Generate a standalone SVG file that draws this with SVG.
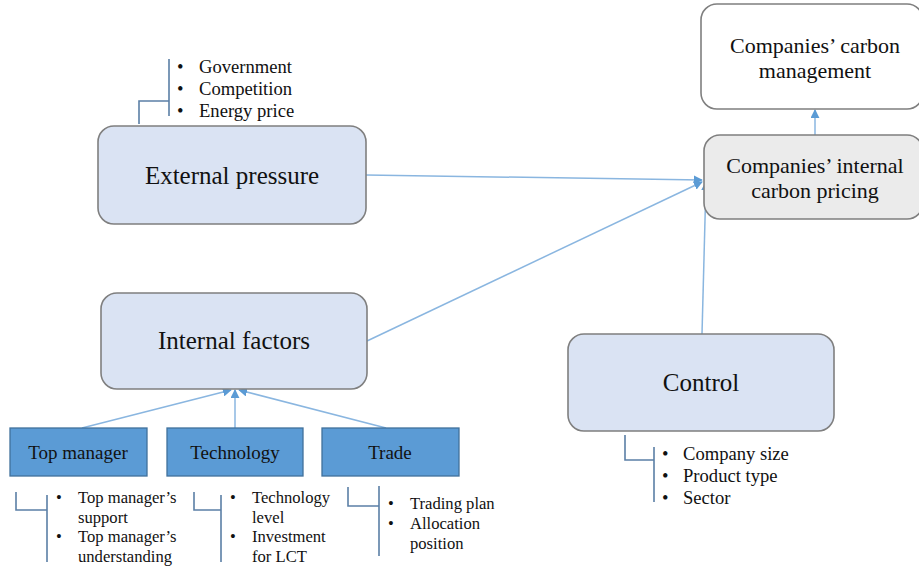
<svg xmlns="http://www.w3.org/2000/svg" width="919" height="570" viewBox="0 0 919 570">
<style>
text{font-family:"Liberation Serif","Times New Roman",serif;fill:#111}
.big{font-size:25px}
.mid{font-size:19px}
.mid2{font-size:22px}
.sm{font-size:18.6px}
.xs{font-size:16.6px}
.rbox{fill:#dae3f3;stroke:#7f7f7f;stroke-width:1.6}
.bbox{fill:#5b9bd5;stroke:#41719c;stroke-width:1.3}
.br{fill:none;stroke:#5b7fa6;stroke-width:1.6}
.conn{stroke:#8ab6e0;stroke-width:1.5;fill:none;marker-end:url(#ah)}
</style>
<defs>
<marker id="ah" viewBox="0 0 10 10" refX="9" refY="5" markerWidth="9" markerHeight="9" orient="auto" markerUnits="userSpaceOnUse">
<path d="M0,0 L10,5 L0,10 z" fill="#5b9bd5"/>
</marker>
</defs>
<rect width="919" height="570" fill="#fff"/>

<g id="connectors">
<line class="conn" x1="366" y1="175" x2="702" y2="180"/>
<line class="conn" x1="367" y1="341" x2="702" y2="182"/>
<line class="conn" x1="702" y1="334" x2="706" y2="182"/>
<line class="conn" x1="815" y1="135" x2="815" y2="110"/>
<line class="conn" x1="82" y1="428" x2="231" y2="390"/>
<line class="conn" x1="235" y1="428" x2="235" y2="390"/>
<line class="conn" x1="386" y1="428" x2="239" y2="390"/>
</g>

<g id="external-pressure">
<rect class="rbox" x="98" y="126" width="268" height="98" rx="16"/>
<text class="big" x="232" y="184" text-anchor="middle">External pressure</text>
<path class="br" d="M139,124 V101 H169 M169,59 V116"/>
<text class="sm" x="177" y="73">•</text><text class="sm" x="199" y="73">Government</text>
<text class="sm" x="177" y="95">•</text><text class="sm" x="199" y="95">Competition</text>
<text class="sm" x="177" y="117">•</text><text class="sm" x="199" y="117">Energy price</text>
</g>

<g id="carbon-management">
<rect x="701" y="4" width="222" height="105" rx="16" fill="#fff" stroke="#7f7f7f" stroke-width="1.6"/>
<text class="mid2" x="815" y="53" text-anchor="middle">Companies’ carbon</text>
<text class="mid2" x="815" y="78" text-anchor="middle">management</text>
</g>

<g id="internal-carbon-pricing">
<rect x="704" y="135" width="219" height="84" rx="16" fill="#ebebeb" stroke="#7f7f7f" stroke-width="1.6"/>
<text class="mid2" x="815" y="173" text-anchor="middle">Companies’ internal</text>
<text class="mid2" x="815" y="198" text-anchor="middle">carbon pricing</text>
</g>

<g id="internal-factors">
<rect class="rbox" x="101" y="293" width="266" height="96" rx="16"/>
<text class="big" x="234" y="349" text-anchor="middle">Internal factors</text>
</g>

<g id="control">
<rect class="rbox" x="568" y="334" width="266" height="97" rx="16"/>
<text class="big" x="701" y="391" text-anchor="middle">Control</text>
<path class="br" d="M625,435 V460 H654 M654,447 V502"/>
<text class="sm" x="662" y="460">•</text><text class="sm" x="683" y="460">Company size</text>
<text class="sm" x="662" y="482">•</text><text class="sm" x="683" y="482">Product type</text>
<text class="sm" x="662" y="504">•</text><text class="sm" x="683" y="504">Sector</text>
</g>

<g id="top-manager">
<rect class="bbox" x="10" y="428" width="137" height="48"/>
<text class="mid" x="78" y="459" text-anchor="middle">Top manager</text>
<path class="br" d="M16,492 V510 H47 M47,495 V562"/>
<text class="xs" x="56" y="503">•</text><text class="xs" x="78" y="503">Top manager’s</text>
<text class="xs" x="78" y="523">support</text>
<text class="xs" x="56" y="542">•</text><text class="xs" x="78" y="542">Top manager’s</text>
<text class="xs" x="78" y="562">understanding</text>
</g>

<g id="technology">
<rect class="bbox" x="167" y="428" width="136" height="48"/>
<text class="mid" x="235" y="459" text-anchor="middle">Technology</text>
<path class="br" d="M194,492 V510 H221 M221,495 V562"/>
<text class="xs" x="230" y="503">•</text><text class="xs" x="252" y="503">Technology</text>
<text class="xs" x="252" y="523">level</text>
<text class="xs" x="230" y="542">•</text><text class="xs" x="252" y="542">Investment</text>
<text class="xs" x="252" y="562">for LCT</text>
</g>

<g id="trade">
<rect class="bbox" x="322" y="428" width="137" height="48"/>
<text class="mid" x="390" y="459" text-anchor="middle">Trade</text>
<path class="br" d="M348,487 V506 H379 M379,486 V556"/>
<text class="xs" x="388" y="509">•</text><text class="xs" x="410" y="509">Trading plan</text>
<text class="xs" x="388" y="529">•</text><text class="xs" x="410" y="529">Allocation</text>
<text class="xs" x="410" y="549">position</text>
</g>
</svg>
